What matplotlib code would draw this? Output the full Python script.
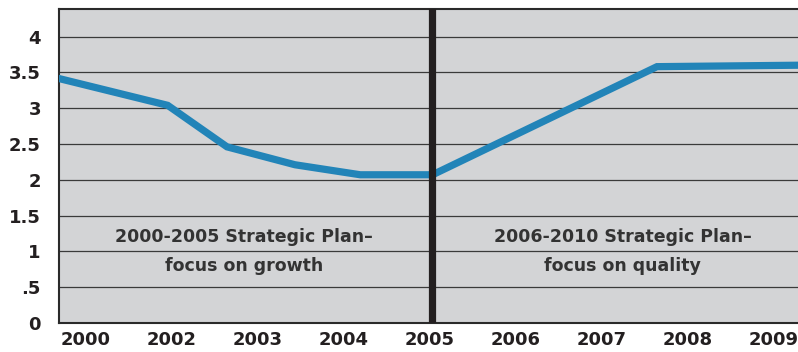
import numpy as np
import matplotlib.pyplot as plt

# Data
year_labels = ['2000', '2002', '2003', '2004', '2005', '2006', '2007', '2008', '2009']
y_tick_values = [0, 0.5, 1, 1.5, 2, 2.5, 3, 3.5, 4]
y_tick_labels = ['0', '.5', '1', '1.5', '2', '2.5', '3', '3.5', '4']

# line vertices (x in year-label units, 0 = "2000")
line_x = [-0.30, 0.95, 1.64, 2.43, 3.19, 4.03, 6.64, 8.28]
line_y = [3.41, 3.04, 2.46, 2.21, 2.07, 2.07, 3.58, 3.60]

plan_split = 4.02
plan_texts = ['2000-2005 Strategic Plan\u2013\nfocus on growth',
              '2006-2010 Strategic Plan\u2013\nfocus on quality']
plan_text_x = [1.84, 6.24]

text_color = '#231f20'

fig = plt.figure(figsize=(7.98, 3.52), dpi=100)
ax = fig.add_axes([0.0739, 0.0824, 0.9261, 0.8920])
ax.set_facecolor('#d3d4d6')

# horizontal grid lines
for v in y_tick_values[1:]:
    ax.axhline(v, color='#3a3a3a', linewidth=0.9, zorder=1)

ax.plot(line_x, line_y, color='#2284b8', linewidth=5.2, solid_joinstyle='miter', zorder=3)

# black divider between the two plans
ax.axvline(plan_split, color='#231f20', linewidth=5.2, zorder=4)

for tx, txt in zip(plan_text_x, plan_texts):
    ax.text(tx, 1.0, txt, ha='center', va='center', fontsize=12.5,
            fontweight='bold', color='#333333', linespacing=1.8, zorder=2)

ax.set_xlim(-0.314, 8.28)
ax.set_ylim(0, 4.385)
ax.set_xticks(np.arange(len(year_labels)))
ax.set_xticklabels(year_labels)
ax.set_yticks(y_tick_values)
ax.set_yticklabels(y_tick_labels)
ax.tick_params(length=0, labelsize=13, labelcolor=text_color)
ax.tick_params(axis='x', pad=6)
ax.tick_params(axis='y', pad=13)
for lbl in ax.get_xticklabels() + ax.get_yticklabels():
    lbl.set_fontweight('bold')

for side in ['left', 'top', 'bottom']:
    ax.spines[side].set_color('#2a2a2a')
    ax.spines[side].set_linewidth(1.5)
ax.spines['right'].set_visible(False)

fig.savefig('out.png', dpi=100)
